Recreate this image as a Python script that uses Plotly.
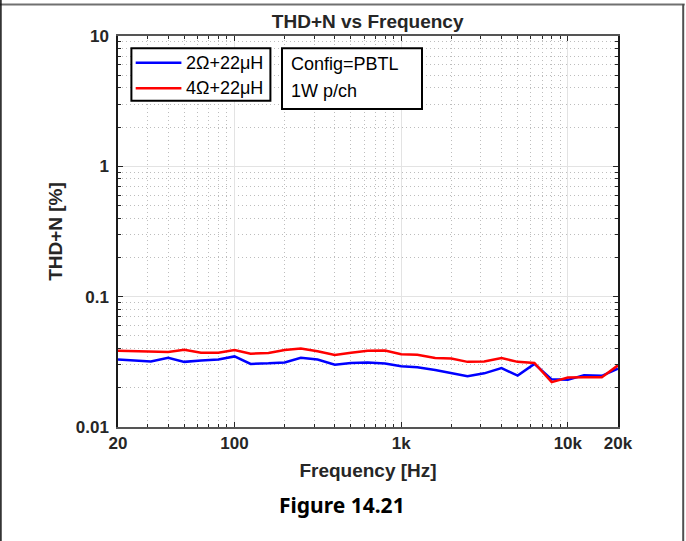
import plotly.graph_objects as go

# ---- data ----
freq_hz = [20, 25, 31.5, 40, 50, 63, 80, 100, 125, 160, 200, 250, 315, 400, 500, 630,
           800, 1000, 1250, 1600, 2000, 2500, 3150, 4000, 5000, 6300, 8000, 10000,
           12500, 16000, 20000]
thdn_2ohm = [0.0330, 0.0324, 0.0318, 0.0340, 0.0316, 0.0324, 0.0330, 0.0348, 0.0305,
             0.0308, 0.0313, 0.0340, 0.0329, 0.0300, 0.0310, 0.0313, 0.0307, 0.0292,
             0.0287, 0.0274, 0.0258, 0.0245, 0.0258, 0.0283, 0.0248, 0.0305, 0.0232,
             0.0230, 0.0250, 0.0247, 0.0280]
thdn_4ohm = [0.0385, 0.0383, 0.0377, 0.0377, 0.0392, 0.0372, 0.0372, 0.0390, 0.0365,
             0.0370, 0.0390, 0.0400, 0.0381, 0.0357, 0.0372, 0.0385, 0.0386, 0.0362,
             0.0358, 0.0338, 0.0335, 0.0316, 0.0318, 0.0338, 0.0316, 0.0310, 0.0221,
             0.0240, 0.0241, 0.0241, 0.0297]
series_names = ["2Ω+22μH", "4Ω+22μH"]
series_colors = ["#0000FF", "#FF0000"]

x_tickvals = [20, 100, 1000, 10000, 20000]
x_ticktext = ["20", "100", "1k", "10k", "20k"]
y_tickvals = [0.01, 0.1, 1, 10]
y_ticktext = ["0.01", "0.1", "1", "10"]
x_minor = [m * 10 ** e for e in (1, 2, 3) for m in range(2, 10)]
x_minor = [v for v in x_minor if 20 < v < 20000 and v not in (100, 1000, 10000)]
y_minor = [round(m * 10 ** e, 6) for e in (-2, -1, 0) for m in range(2, 10)]

config_lines = ["Config=PBTL", "1W p/ch"]
title_text = "THD+N vs Frequency"
caption_text = "Figure 14.21"

# ---- layout geometry (pixels) ----
W, H = 686, 541
L, R, T, B = 118.3, 618.3, 36.0, 427.0
def px(xp):
    return (xp - L) / (R - L)
def py(yp):
    return (B - yp) / (B - T)

fig = go.Figure()
for name, vals, col in zip(series_names, [thdn_2ohm, thdn_4ohm], series_colors):
    fig.add_trace(go.Scatter(x=freq_hz, y=vals, mode="lines", name=name,
                             line=dict(color=col, width=2.5), showlegend=False))

axis_font = dict(family="Liberation Sans, Arial, sans-serif", size=17, color="#262626", weight="bold")
title_font = dict(family="Liberation Sans, Arial, sans-serif", size=19, color="#262626", weight="bold")
box_font = dict(family="Liberation Sans, Arial, sans-serif", size=17, color="black")

common = dict(type="log", showline=True, mirror="ticks", ticks="inside", ticklen=5,
              tickwidth=1, tickcolor="#262626", showgrid=True, gridcolor="#e3e3e3",
              gridwidth=1, zeroline=False, tickfont=axis_font, tickmode="array")
minor_common = dict(tickmode="array", ticks="inside", ticklen=3, tickcolor="#262626",
                    showgrid=True, gridcolor="#bdbdbd", griddash="1px,3px", gridwidth=1)

fig.update_xaxes(**common, range=[1.30103, 4.30103], tickvals=x_tickvals, ticktext=x_ticktext,
                 linecolor="#555555", linewidth=1.5,
                 minor=dict(tickvals=x_minor, **minor_common),
                 title=dict(text="Frequency [Hz]", font=title_font, standoff=12))
fig.update_yaxes(**common, range=[-2, 1], tickvals=y_tickvals, ticktext=y_ticktext,
                 linecolor="#1a1a1a", linewidth=1.5, ticklabelstandoff=4,
                 minor=dict(tickvals=y_minor, **minor_common),
                 title=dict(text="THD+N [%]", font=title_font, standoff=8))

# legend box (drawn)
fig.add_shape(type="rect", xref="paper", yref="paper",
              x0=px(131.7), x1=px(270.7), y0=py(100.7), y1=py(48.3),
              line=dict(color="black", width=2), fillcolor="white", layer="above")
for i, (name, col) in enumerate(zip(series_names, series_colors)):
    yy = py(62.7 + 25.6 * i)
    fig.add_shape(type="line", xref="paper", yref="paper", x0=px(136), x1=px(181.7),
                  y0=yy, y1=yy, line=dict(color=col, width=2.5), layer="above")
    fig.add_annotation(xref="paper", yref="paper", x=px(184), y=yy, xanchor="left",
                       yanchor="middle", text=name, showarrow=False,
                       font=dict(box_font, size=18))

# config text box
fig.add_shape(type="rect", xref="paper", yref="paper",
              x0=px(282.3), x1=px(422.3), y0=py(109), y1=py(48.3),
              line=dict(color="black", width=2), fillcolor="white", layer="above")
for i, txt in enumerate(config_lines):
    fig.add_annotation(xref="paper", yref="paper", x=px(289), y=py(63.5 + 27.5 * i),
                       xanchor="left", yanchor="middle", text=txt, showarrow=False,
                       font=dict(box_font, size=18))

# caption
fig.add_annotation(xref="paper", yref="paper", x=px(342), y=py(505), xanchor="center",
                   yanchor="middle", text=caption_text, showarrow=False,
                   font=dict(family="Noto Sans, sans-serif", size=21, color="black", weight="bold"))

# outer frame
fig.add_shape(type="line", xref="paper", yref="paper", x0=px(0), x1=px(685), y0=py(4.5), y1=py(4.5),
              line=dict(color="#707070", width=2))
fig.add_shape(type="line", xref="paper", yref="paper", x0=px(1.2), x1=px(1.2), y0=py(0), y1=py(545),
              line=dict(color="#111111", width=1.5))
fig.add_shape(type="line", xref="paper", yref="paper", x0=px(683.5), x1=px(683.5), y0=py(4), y1=py(545),
              line=dict(color="#505050", width=2))

fig.update_layout(
    width=W, height=H, autosize=False,
    margin=dict(l=L, r=W - R, t=T, b=H - B, pad=0),
    paper_bgcolor="white", plot_bgcolor="white",
    title=dict(text=title_text, x=px(368), xref="paper", xanchor="center",
               y=1 - 21 / H, yref="container", yanchor="middle", font=title_font),
    showlegend=False,
)

fig.write_html("out.html", config={"displayModeBar": False},
               post_script="document.body.style.margin='0';document.body.style.overflow='hidden';")
